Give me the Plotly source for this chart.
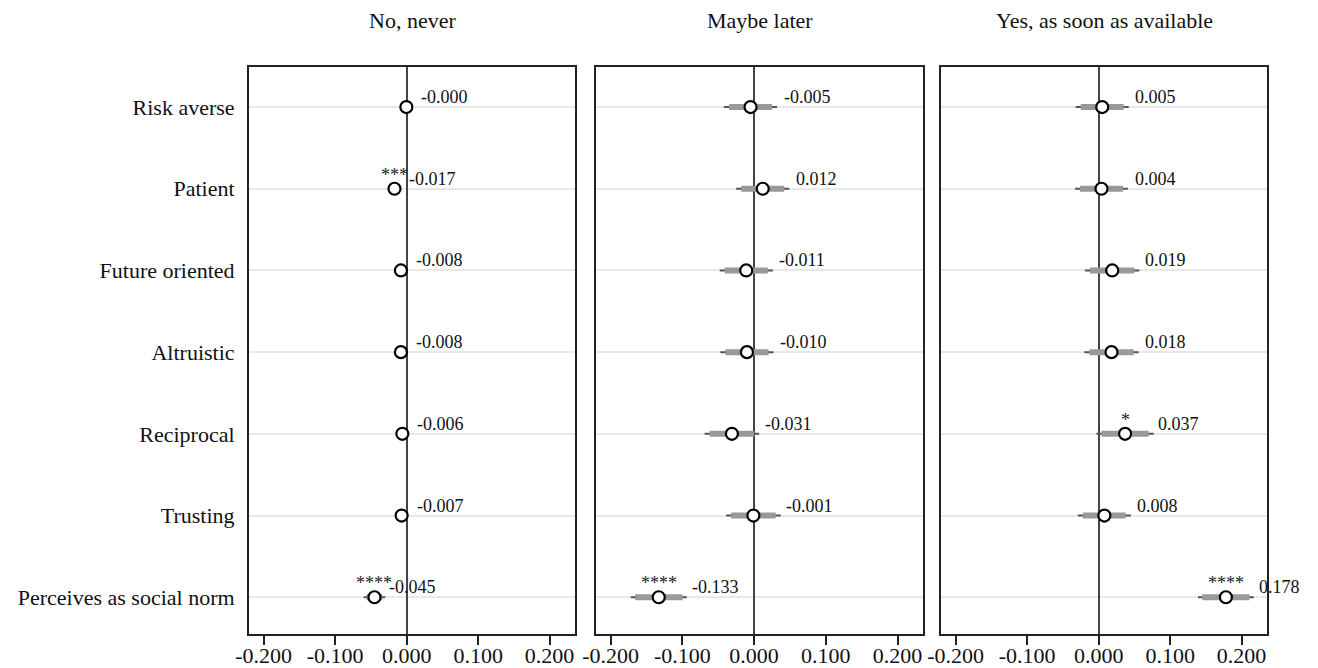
import plotly.graph_objects as go

categories = ["Risk averse", "Patient", "Future oriented", "Altruistic",
              "Reciprocal", "Trusting", "Perceives as social norm"]
panel_titles = ["No, never", "Maybe later", "Yes, as soon as available"]

coef_never = [-0.0004, -0.017, -0.008, -0.008, -0.006, -0.007, -0.045]
coef_later = [-0.005, 0.012, -0.011, -0.010, -0.031, -0.001, -0.133]
coef_yes = [0.005, 0.004, 0.019, 0.018, 0.037, 0.008, 0.178]

ci95_never = [0.004, 0.005, 0.004, 0.004, 0.004, 0.004, 0.011]
ci95_later = [0.030, 0.030, 0.030, 0.030, 0.031, 0.031, 0.033]
ci95_yes = [0.030, 0.030, 0.031, 0.031, 0.033, 0.030, 0.033]

ci99_never = [0.005, 0.007, 0.005, 0.005, 0.005, 0.005, 0.015]
ci99_later = [0.037, 0.037, 0.037, 0.037, 0.038, 0.038, 0.039]
ci99_yes = [0.037, 0.037, 0.038, 0.038, 0.040, 0.037, 0.039]

stars_never = ["", "***", "", "", "", "", "****"]
stars_later = ["", "", "", "", "", "", "****"]
stars_yes = ["", "", "", "", "*", "", "****"]

x_ticks = [-0.2, -0.1, 0.0, 0.1, 0.2]
x_ticktext = ["-0.200", "-0.100", "0.000", "0.100", "0.200"]

panels = [
    (coef_never, ci95_never, ci99_never, stars_never, 13),
    (coef_later, ci95_later, ci99_later, stars_later, 31),
    (coef_yes, ci95_yes, ci99_yes, stars_yes, 31),
]

OFF = 8  # page body margin
W, H = 1318 - OFF, 668 - OFF


def px_x(p):
    return (p - OFF) / W


def px_y(p):
    return 1 - (p - OFF) / H


x_domains = [[px_x(249), px_x(575)], [px_x(596), px_x(923)], [px_x(941), px_x(1267)]]
y_domain = [px_y(634), px_y(67)]
FONT = "Liberation Serif, Times New Roman, serif"

ypos = list(range(1, len(categories) + 1))

fig = go.Figure()
annotations = []
for i, (coef, c95, c99, stars, lab_shift) in enumerate(panels):
    xa = "x" if i == 0 else f"x{i+1}"
    ya = "y" if i == 0 else f"y{i+1}"
    xs, ys = [], []
    for c, h, y in zip(coef, c99, ypos):
        xs += [c - h, c + h, None]
        ys += [y, y, None]
    fig.add_trace(go.Scatter(x=xs, y=ys, mode="lines", xaxis=xa, yaxis=ya,
                             line=dict(color="#555555", width=2), showlegend=False,
                             hoverinfo="skip"))
    xs, ys = [], []
    for c, h, y in zip(coef, c95, ypos):
        xs += [c - h, c + h, None]
        ys += [y, y, None]
    fig.add_trace(go.Scatter(x=xs, y=ys, mode="lines", xaxis=xa, yaxis=ya,
                             line=dict(color="#999999", width=6), showlegend=False,
                             hoverinfo="skip"))
    fig.add_trace(go.Scatter(x=coef, y=ypos, mode="markers", xaxis=xa, yaxis=ya,
                             marker=dict(size=12, color="white",
                                         line=dict(color="black", width=2.2)),
                             showlegend=False))
    for c, s, y in zip(coef, stars, ypos):
        annotations.append(dict(x=c, y=y, xref=xa, yref=ya, text=f"{c:.3f}",
                                showarrow=False, xanchor="left", yanchor="middle",
                                xshift=lab_shift, yshift=10,
                                font=dict(family=FONT, size=18, color="#111111")))
        if s:
            annotations.append(dict(x=c, y=y, xref=xa, yref=ya, text=s,
                                    showarrow=False, xanchor="center", yanchor="middle",
                                    yshift=14,
                                    font=dict(family=FONT, size=18, color="#222222")))
    cx = (x_domains[i][0] + x_domains[i][1]) / 2
    annotations.append(dict(x=cx, y=px_y(20), xref="paper", yref="paper",
                            text=panel_titles[i], showarrow=False,
                            xanchor="center", yanchor="middle",
                            font=dict(family=FONT, size=22, color="#111111")))

    xaxis = dict(domain=x_domains[i], range=[-0.2205, 0.2355], tickvals=x_ticks,
                 ticktext=x_ticktext, ticks="outside", ticklen=9, tickwidth=1.5,
                 tickcolor="#222", showline=True, linecolor="#222", linewidth=2,
                 mirror=True, showgrid=False, zeroline=True, zerolinecolor="#444",
                 zerolinewidth=2, anchor=ya, automargin=False,
                 ticklabelstandoff=-8,
                 tickfont=dict(family=FONT, size=22, color="#111111"))
    yaxis = dict(domain=y_domain, range=[7.45, 0.51], tickvals=ypos,
                 ticktext=categories if i == 0 else None,
                 showticklabels=(i == 0), ticks="", showline=True,
                 linecolor="#222", linewidth=2, mirror=True, showgrid=True,
                 gridcolor="#e8e8e8", gridwidth=2, zeroline=False, anchor=xa,
                 ticklabelstandoff=8, automargin=False,
                 tickfont=dict(family=FONT, size=22, color="#111111"))
    key = "" if i == 0 else str(i + 1)
    fig.update_layout(**{f"xaxis{key}": xaxis, f"yaxis{key}": yaxis})

fig.update_layout(width=W, height=H, margin=dict(l=0, r=0, t=0, b=0),
                  paper_bgcolor="white", plot_bgcolor="white",
                  annotations=annotations, showlegend=False)
fig.write_html("out.html")
